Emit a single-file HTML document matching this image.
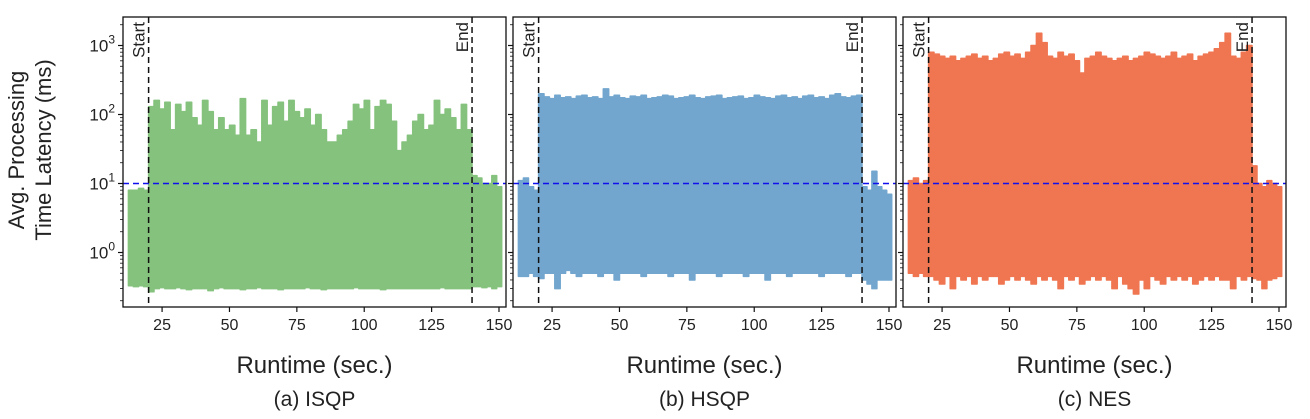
<!DOCTYPE html>
<html><head><meta charset="utf-8"><style>
html,body{margin:0;padding:0;background:#fff;}
svg{display:block;font-family:"Liberation Sans","DejaVu Sans",sans-serif;}
</style></head><body>
<svg id="chart" width="1310" height="419" viewBox="0 0 1310 419" xmlns="http://www.w3.org/2000/svg">
<text transform="translate(24,150) rotate(-90)" text-anchor="middle" font-size="22" fill="#222">Avg. Processing</text>
<text transform="translate(51,150) rotate(-90)" text-anchor="middle" font-size="22" fill="#222">Time Latency (ms)</text>
</svg>
<script>
const tickVals = [25, 50, 75, 100, 125, 150];
const yDecades = [0, 1, 2, 3];
const panelNames = ["(a) ISQP", "(b) HSQP", "(c) NES"];
const startT = 20, endT = 140, threshold = 10;
const seriesStart = 12.5, seriesEnd = 151;
// ISQP
const isqpPreUpper = [8,8,8.5,8];
const isqpMainUpper = [130,160,120,150,60,140,110,150,90,70,160,110,60,90,60,70,50,170,50,60,40,160,70,130,150,80,160,110,90,120,70,100,60,40,40,50,60,80,140,120,160,60,130,160,140,80,30,40,50,80,100,60,70,160,100,120,90,60,140,60];
const isqpPostUpper = [13,12,10,10,13,9];
const isqpPreLower = [0.33,0.32,0.33,0.32];
const isqpMainLower = [0.27,0.3,0.31,0.3,0.3,0.31,0.3,0.29,0.3,0.3,0.3,0.28,0.3,0.31,0.3,0.3,0.3,0.29,0.3,0.3,0.31,0.3,0.3,0.3,0.29,0.3,0.3,0.3,0.3,0.31,0.3,0.3,0.29,0.3,0.3,0.3,0.3,0.3,0.31,0.3,0.3,0.3,0.3,0.29,0.3,0.3,0.3,0.3,0.3,0.3,0.3,0.3,0.3,0.3,0.31,0.3,0.3,0.3,0.3,0.3];
const isqpPostLower = [0.32,0.32,0.31,0.32,0.3,0.32];
// HSQP
const hsqpPreUpper = [11,12,9,8];
const hsqpMainUpper = [200,180,170,190,175,180,170,185,190,175,180,170,235,180,190,175,170,185,180,190,170,175,180,190,185,170,175,180,190,175,170,180,185,190,170,175,180,185,170,175,190,180,175,170,185,190,175,180,170,185,190,175,180,170,190,200,180,175,185,190];
const hsqpPostUpper = [9,8,15,9,8,7];
const hsqpPreLower = [0.45,0.45,0.5,0.45];
const hsqpMainLower = [0.42,0.5,0.5,0.3,0.5,0.55,0.5,0.45,0.5,0.5,0.5,0.45,0.5,0.5,0.4,0.5,0.5,0.5,0.5,0.45,0.5,0.5,0.5,0.5,0.45,0.5,0.5,0.5,0.4,0.5,0.5,0.5,0.5,0.45,0.5,0.5,0.5,0.5,0.45,0.5,0.5,0.5,0.4,0.5,0.5,0.5,0.45,0.5,0.5,0.5,0.5,0.5,0.45,0.5,0.5,0.5,0.5,0.45,0.5,0.5];
const hsqpPostLower = [0.4,0.35,0.3,0.4,0.4,0.4];
// NES
const nesPreUpper = [11,12,10,11];
const nesMainUpper = [800,750,700,650,700,600,650,700,750,650,700,600,650,750,800,700,750,650,800,1000,1500,1100,700,650,800,700,750,600,400,650,700,800,700,650,600,650,700,600,650,700,800,750,700,650,700,800,650,700,750,600,700,750,800,900,1100,1500,700,650,800,1000];
const nesPostUpper = [18,10,9,11,10,9];
const nesPreLower = [0.5,0.45,0.5,0.45];
const nesMainLower = [0.45,0.4,0.35,0.45,0.3,0.45,0.4,0.45,0.35,0.45,0.4,0.45,0.45,0.35,0.4,0.45,0.4,0.45,0.4,0.35,0.45,0.4,0.45,0.4,0.3,0.45,0.4,0.45,0.35,0.4,0.45,0.4,0.45,0.4,0.3,0.45,0.35,0.3,0.25,0.4,0.3,0.45,0.4,0.35,0.45,0.4,0.45,0.4,0.45,0.35,0.4,0.45,0.4,0.45,0.4,0.4,0.3,0.45,0.4,0.45];
const nesPostLower = [0.42,0.4,0.3,0.4,0.42,0.45];

const series = [
  [[isqpPreUpper,isqpPreLower],[isqpMainUpper,isqpMainLower],[isqpPostUpper,isqpPostLower]],
  [[hsqpPreUpper,hsqpPreLower],[hsqpMainUpper,hsqpMainLower],[hsqpPostUpper,hsqpPostLower]],
  [[nesPreUpper,nesPreLower],[nesMainUpper,nesMainLower],[nesPostUpper,nesPostLower]]
];
const colors = ["#84c27d","#72a6ce","#ef7651"];

const svg = document.getElementById('chart');
const NS = 'http://www.w3.org/2000/svg';
function mk(tag, attrs, parent){const e=document.createElementNS(NS,tag);for(const k in attrs)e.setAttribute(k,attrs[k]);(parent||svg).appendChild(e);return e;}
const panelLefts = [123, 513, 903];
const PW = 383, TOP = 17, BOT = 307;
const XMIN = 10.5, XMAX = 152.6;
const Y0PIX = 252.5, DEC = 69;
function yScale(v){return Y0PIX - Math.log10(v)*DEC;}
const keys = ["isqp","hsqp","nes"];

panelLefts.forEach((L,p)=>{
  const xS = t => L + (t - XMIN)/(XMAX-XMIN)*PW;
  const g = mk('g',{});
  
  
  const ranges = [[seriesStart,startT],[startT,endT],[endT,seriesEnd]];
  const ups=[], los=[];
  series[p].forEach(([u,l],s)=>{
    const [a,b]=ranges[s]; const w=(b-a)/u.length;
    u.forEach((v,i)=>{ups.push([a+i*w,a+(i+1)*w,v]);los.push([a+i*w,a+(i+1)*w,l[i]]);});
  });
  let d='';
  ups.forEach(([a,b,v],i)=>{d+=(i?'L':'M')+xS(a).toFixed(1)+','+yScale(v).toFixed(1)+'L'+xS(b).toFixed(1)+','+yScale(v).toFixed(1);});
  for(let i=los.length-1;i>=0;i--){const [a,b,v]=los[i];d+='L'+xS(b).toFixed(1)+','+yScale(v).toFixed(1)+'L'+xS(a).toFixed(1)+','+yScale(v).toFixed(1);}
  d+='Z';
  const area = mk('path',{d:d,fill:colors[p],stroke:colors[p],'stroke-width':1.5,'stroke-linejoin':'round'},g);
  
  
  const th = mk('line',{x1:L,x2:L+PW,y1:yScale(threshold),y2:yScale(threshold),stroke:'#1010ee','stroke-width':1.5,'stroke-dasharray':'6,4'},g);
  
  
  [[startT,'Start'],[endT,'End']].forEach(([t,lab])=>{
    const x = xS(t);
    const ln = mk('line',{x1:x,x2:x,y1:TOP,y2:BOT,stroke:'#111','stroke-width':1.5,'stroke-dasharray':'6,4'},g);
    
    
    const tx = mk('text',{transform:`translate(${x-4},${TOP+5}) rotate(-90)`,'text-anchor':'end','font-size':17,fill:'#222'},g);
    tx.textContent = lab;
    
    
  });
  const fr = mk('rect',{x:L,y:TOP,width:PW,height:BOT-TOP,fill:'none',stroke:'#111','stroke-width':1.3},g);
  
  
  tickVals.forEach(v=>{
    const x=xS(v);
    mk('line',{x1:x,x2:x,y1:BOT,y2:BOT+5,stroke:'#111','stroke-width':1.2},g);
    const tx=mk('text',{x:x,y:BOT+23,'text-anchor':'middle','font-size':16,fill:'#222'},g);
    tx.textContent=v;
    
    
  });
  for(let dcd=-1; dcd<=3; dcd++){
    for(let m=1;m<=9;m++){
      const v=m*Math.pow(10,dcd);const y=yScale(v);
      if(y<TOP||y>BOT)continue;
      mk('line',{x1:L-(m===1?5:3),x2:L,y1:y,y2:y,stroke:'#111','stroke-width':m===1?1.2:0.8},g);
    }
  }
  if(p===0){
    yDecades.forEach(k=>{
      const tx=mk('text',{x:L-8,y:yScale(Math.pow(10,k))+6,'text-anchor':'end','font-size':17,fill:'#222'},g);
      tx.innerHTML='10<tspan dy="-8" font-size="12">'+k+'</tspan>';
      
      
    });
  }
  const xl=mk('text',{x:L+PW/2,y:373,'text-anchor':'middle','font-size':24,fill:'#222'},g);
  xl.textContent='Runtime (sec.)';
  
  
  const cap=mk('text',{x:L+PW/2,y:406,'text-anchor':'middle','font-size':21,fill:'#222'},g);
  cap.textContent=panelNames[p];
  
  
});
</script>
</body></html>
